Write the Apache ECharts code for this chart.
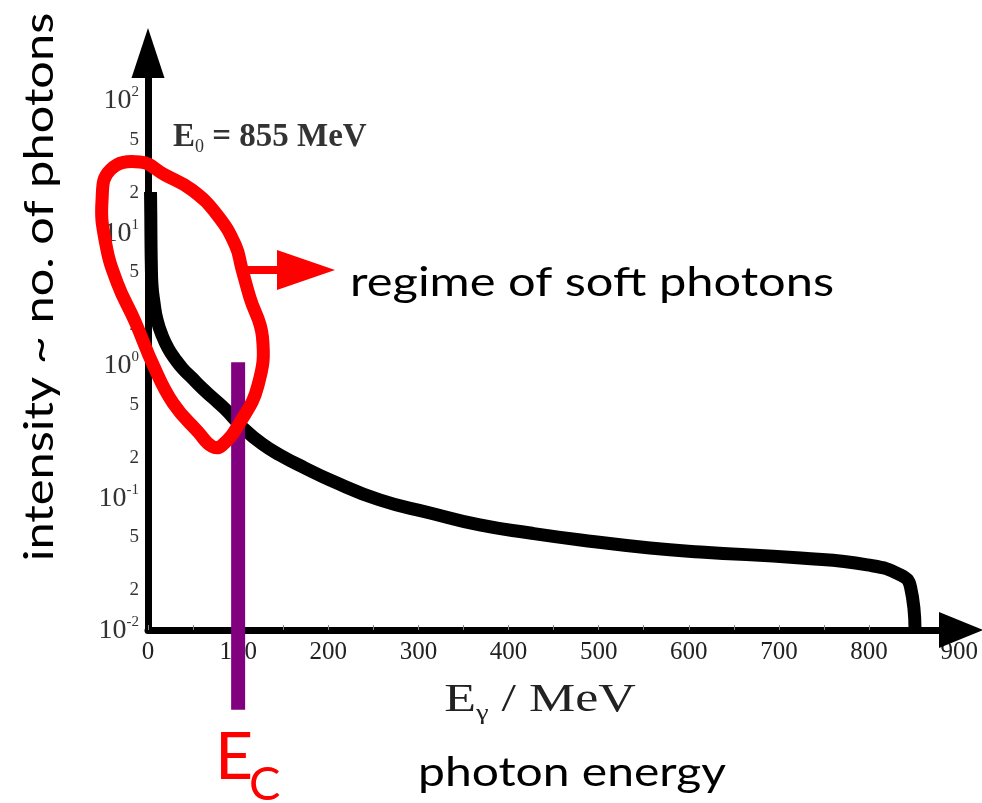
<!DOCTYPE html>
<html>
<head>
<meta charset="utf-8">
<script src="https://cdn.jsdelivr.net/npm/echarts@6/dist/echarts.min.js"></script>
<style>
  html, body { margin: 0; padding: 0; background: #fff; }
  #chart { width: 982px; height: 803px; }
</style>
</head>
<body>
<div id="chart"></div>
<script>
  // photon spectrum (E in MeV, intensity)
  var energy = [2.8, 3.1, 3.3, 3.7, 4.4, 6.7, 10, 15.5, 22.2, 30, 38.8, 48.8, 59.9, 72.1, 85.4, 105.4, 126.5, 146.5, 174, 202, 257, 313, 368, 424, 480, 557, 613, 724, 798, 835, 846, 851];
  var intensity = [20.2, 13.5, 8.8, 5.69, 4.02, 2.94, 2.19, 1.68, 1.34, 1.11, 0.933, 0.798, 0.67, 0.563, 0.466, 0.335, 0.254, 0.209, 0.167, 0.1355, 0.0958, 0.0764, 0.062, 0.0539, 0.0478, 0.0416, 0.0388, 0.0349, 0.031, 0.026, 0.0211, 0.01];

  // hand drawn loop round the soft photon region, in data units
  var loopE = [-42, -9, 19, 49, 77, 97, 104, 113, 127, 122, 102, 82, 71, 56, 28, 6, -14, -34, -47, -51];
  var loopI = [29.6, 34, 27.1, 20.9, 13.5, 8.0, 5.37, 3.24, 1.62, 0.70, 0.368, 0.247, 0.243, 0.31, 0.513, 0.99, 2.10, 4.14, 8.3, 17.5];

  // critical energy marker
  var ecEnergy = 100;
  var ecRange = [0.0025, 1.05];

  var xTicks = [0, 100, 200, 300, 400, 500, 600, 700, 800, 900];
  var yTicks = [0.01, 0.02, 0.05, 0.1, 0.2, 0.5, 1, 2, 5, 10, 20, 50, 100];

  var zip = function (a, b) { return a.map(function (v, i) { return [v, b[i]]; }); };

  var chart = echarts.init(document.getElementById('chart'));
  var serif = '"Liberation Serif", "DejaVu Serif", serif';
  var sans = 'Lato, "Open Sans", sans-serif';

  chart.setOption({
    animation: false,
    grid: { left: 148, right: 21, top: 53, bottom: 173 },
    xAxis: {
      type: 'value',
      min: 0,
      max: 902,
      interval: 50,
      splitLine: { show: false },
      axisLine: { lineStyle: { color: '#000', width: 7 }, symbol: ['none', 'triangle'], symbolSize: [36, 44] },
      axisTick: { inside: true, length: 5, lineStyle: { color: '#888', width: 1 } },
      axisLabel: { customValues: xTicks, margin: 10, color: '#222', fontFamily: serif, fontSize: 25 }
    },
    yAxis: {
      type: 'log',
      logBase: 10,
      min: 0.01,
      max: 226,
      splitLine: { show: false },
      axisLine: { lineStyle: { color: '#000', width: 7 }, symbol: ['none', 'triangle'], symbolSize: [33, 50] },
      axisTick: { show: false },
      axisLabel: {
        customValues: yTicks,
        margin: 9,
        color: '#333',
        formatter: function (v) {
          var l = Math.log10(v);
          var r = Math.round(l);
          if (Math.abs(l - r) < 1e-6) return '{b|10}{p|' + r + '}';
          return '{m|' + Math.round(v / Math.pow(10, Math.floor(l))) + '}';
        },
        rich: {
          b: { fontFamily: serif, fontSize: 28, color: '#333', lineHeight: 30, verticalAlign: 'bottom' },
          p: { fontFamily: serif, fontSize: 15, color: '#333', lineHeight: 30, verticalAlign: 'top' },
          m: { fontFamily: serif, fontSize: 19, color: '#333' }
        }
      }
    },
    series: [
      {
        name: 'spectrum',
        type: 'line',
        data: zip(energy, intensity),
        smooth: 0.5,
        symbol: 'none',
        lineStyle: { color: '#000', width: 13, join: 'round' },
        z: 3
      },
      {
        name: 'Ec',
        type: 'line',
        data: [[ecEnergy, ecRange[0]], [ecEnergy, ecRange[1]]],
        symbol: 'none',
        clip: false,
        lineStyle: { color: '#800080', width: 14, cap: 'butt' },
        z: 4
      }
    ]
  });

  // loop goes left of the y axis, so place it as a graphic from data coordinates
  var loopPts = zip(loopE, loopI).map(function (p) {
    return chart.convertToPixel({ gridIndex: 0 }, p);
  });

  chart.setOption({
    graphic: [
      {
        type: 'polygon', z: 100,
        shape: { points: loopPts, smooth: 0.45 },
        style: { fill: 'none', stroke: '#ff0000', lineWidth: 13, lineJoin: 'round' }
      },
      { type: 'line', z: 100, shape: { x1: 243, y1: 270, x2: 285, y2: 270 }, style: { stroke: '#ff0000', lineWidth: 8 } },
      { type: 'polygon', z: 100, shape: { points: [[277, 250], [335, 270], [277, 290]] }, style: { fill: '#ff0000' } },
      {
        type: 'text', x: 173, y: 137, z: 100,
        style: {
          text: '{a|E}{s|0}{a| = 855 MeV}',
          verticalAlign: 'middle',
          rich: {
            a: { fontFamily: serif, fontSize: 33, fontWeight: 'bold', fill: '#333', lineHeight: 38, verticalAlign: 'middle' },
            s: { fontFamily: serif, fontSize: 18, fill: '#333', lineHeight: 38, verticalAlign: 'bottom' }
          }
        }
      },
      {
        type: 'text', x: 350, y: 283, scaleX: 1.22, z: 100,
        style: { text: 'regime of soft photons', fontFamily: sans, fontSize: 40, fill: '#000', verticalAlign: 'middle' }
      },
      {
        type: 'text', x: 418, y: 773, scaleX: 1.2, z: 100,
        style: { text: 'photon energy', fontFamily: sans, fontSize: 40, fill: '#000', verticalAlign: 'middle' }
      },
      {
        type: 'text', x: 40, y: 287, rotation: Math.PI / 2, scaleX: 1.22, z: 100,
        style: { text: 'intensity ~ no. of photons', fontFamily: sans, fontSize: 40, fill: '#000', align: 'center', verticalAlign: 'middle' }
      },
      {
        type: 'text', x: 540, y: 700, scaleX: 1.3, z: 100,
        style: {
          text: '{a|E}{s|γ}{a| / MeV}',
          align: 'center',
          verticalAlign: 'middle',
          rich: {
            a: { fontFamily: serif, fontSize: 40, fill: '#222', lineHeight: 48, verticalAlign: 'middle' },
            s: { fontFamily: serif, fontSize: 22, fill: '#222', lineHeight: 48, verticalAlign: 'bottom' }
          }
        }
      },
      {
        type: 'text', x: 215, y: 758, z: 100,
        style: { text: 'E', fontFamily: sans, fontSize: 66, fill: '#ff0000', verticalAlign: 'middle' }
      },
      {
        type: 'text', x: 249, y: 785, z: 100,
        style: { text: 'C', fontFamily: sans, fontSize: 47, fill: '#ff0000', verticalAlign: 'middle' }
      }
    ]
  });
</script>
</body>
</html>
